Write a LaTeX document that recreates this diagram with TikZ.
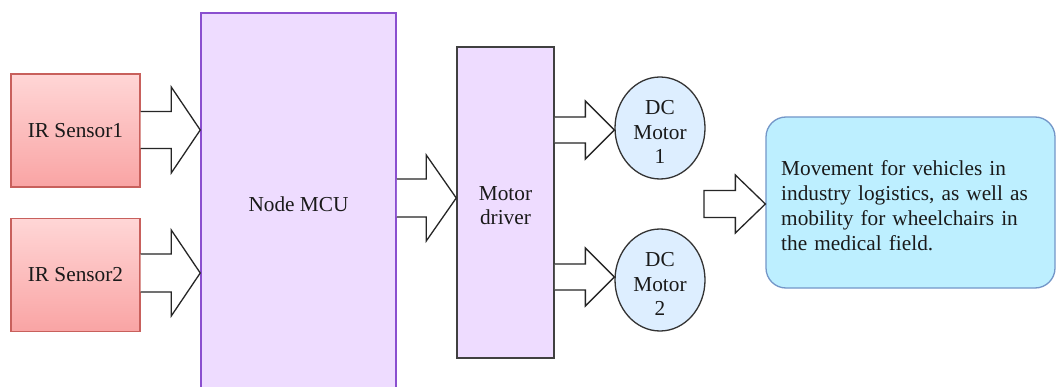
\documentclass[tikz,border=0pt]{standalone}
\usepackage{fontspec}
\setmainfont{Liberation Serif}
\newfontfamily\diafont{Liberation Serif}
\usetikzlibrary{calc,shapes.geometric}
\definecolor{sensTop}{HTML}{FFD6D6}
\definecolor{sensBot}{HTML}{F9A4A4}
\definecolor{sensLine}{HTML}{C8605C}
\definecolor{lav}{HTML}{EEDCFF}
\definecolor{lavLine}{HTML}{8A4FCF}
\definecolor{motFill}{HTML}{DDEEFF}
\definecolor{resFill}{HTML}{BDEFFF}
\definecolor{resLine}{HTML}{7396C8}
\definecolor{txt}{HTML}{1A1A1A}
\newcommand\barrow[5]{%
  \draw[barrowline] let \p1=(#1), \p2=(#2) in
    (\x1,\y2+#3) -- (\x2-#5,\y2+#3) -- (\x2-#5,\y2+#4) -- (\x2,\y2)
    -- (\x2-#5,\y2-#4) -- (\x2-#5,\y2-#3) -- (\x1,\y2-#3);}
\begin{document}
\begin{tikzpicture}[x=1pt,y=-1pt,
  every node/.style={font=\diafont\fontsize{21.3}{24.5}\selectfont, text=txt, inner sep=0pt},
  sensorbox/.style={rectangle, draw=sensLine, line width=1.3pt, top color=sensTop, bottom color=sensBot, minimum width=129pt, minimum height=113pt},
  mcubox/.style={rectangle, draw=lavLine, line width=1.5pt, fill=lav},
  driverbox/.style={rectangle, draw=black!75, line width=1.5pt, fill=lav},
  motorbox/.style={ellipse, draw=black!80, line width=1.3pt, fill=motFill, minimum width=90pt, minimum height=102pt},
  resbox/.style={rectangle, rounded corners=20pt, draw=resLine, line width=1.3pt, fill=resFill, minimum width=289pt, minimum height=171pt},
  ctext/.style={align=center},
  ltext/.style={align=left, text width=259pt, font=\diafont\fontsize{21.3}{25}\selectfont},
  barrowline/.style={draw=black!85, line width=1.3pt, fill=white, line join=miter}]
\useasboundingbox (0,0) rectangle (1056,387);
\fill[white] (0,0) rectangle (1056,387);
\node[sensorbox] (s1) at (75.5,130.5) {IR Sensor1};
\node[sensorbox] (s2) at (75.5,275) {IR Sensor2};
\node[mcubox, minimum width=195pt, minimum height=380pt] (mcu) at (298.5,203) {};
\node at (298.5,204) (mcutext) {Node MCU};
\node[driverbox, minimum width=97pt, minimum height=311pt] (drv) at (505.5,202.5) {};
\node[ctext] (drvtext) at (505.5,205.5) {Motor\\driver};
\node[motorbox] (m1) at (660,128) {};
\node[ctext] (m1text) at (660,132) {DC\\Motor\\1};
\node[motorbox] (m2) at (660,280) {};
\node[ctext] (m2text) at (660,284) {DC\\Motor\\2};
\node[resbox] (res) at (910.5,202.5) {};
\node[ltext, anchor=west] (restext) at (781,206) {Movement for vehicles in industry logistics, as well as mobility for wheelchairs in the medical field.};
\coordinate (a1) at ($(mcu.west |- s1.east)+(0,-0.5)$);
\coordinate (a2) at ($(mcu.west |- s2.east)+(0,-2)$);
\coordinate (a3) at ($(drv.west)+(0,-4.5)$);
\coordinate (a4) at ($(m1.west)+(0,2)$);
\coordinate (a5) at ($(m2.west)+(0,-3)$);
\barrow{s1.east}{a1}{18.5}{43}{29}
\barrow{s2.east}{a2}{19}{43}{29}
\barrow{mcu.east}{a3}{19}{43}{30}
\barrow{drv.east}{a4}{13}{29}{29}
\barrow{drv.east}{a5}{13}{29}{29}
\coordinate (r0) at (704,204);
\draw[barrowline] let \p1=(r0), \p2=(res.west) in
  (\x1,\y1+13.5) -- (\x2-30,\y1+13.5) -- (\x2-30,\y1+29) -- (\x2,\y1)
  -- (\x2-30,\y1-29) -- (\x2-30,\y1-13.5) -- (\x1,\y1-13.5) -- cycle;
\end{tikzpicture}
\end{document}
